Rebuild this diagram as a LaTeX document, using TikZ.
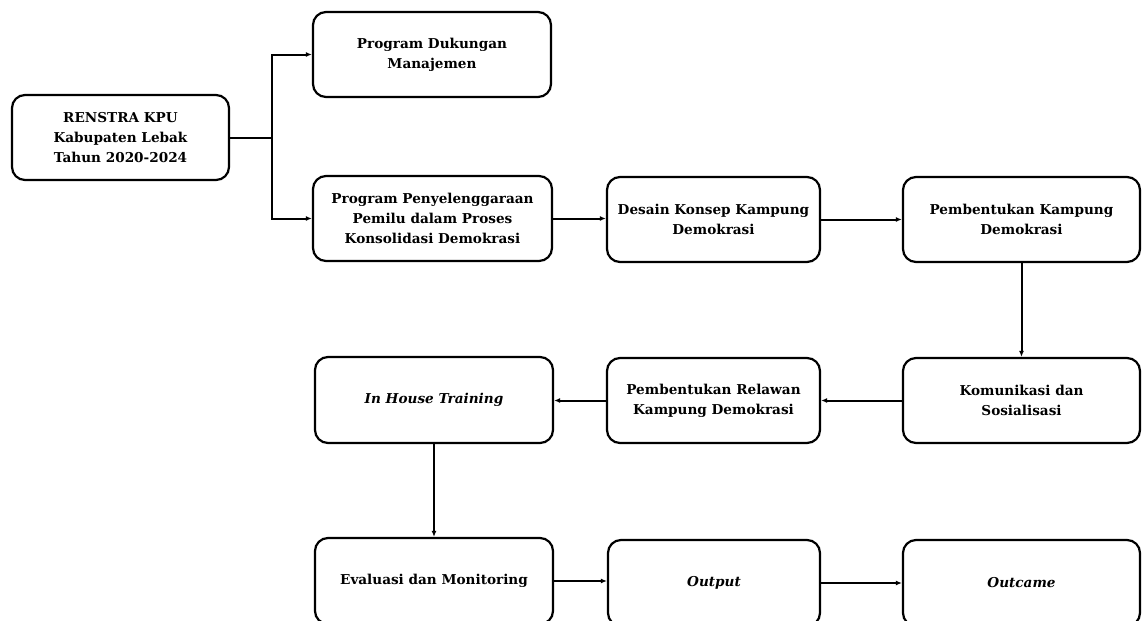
\documentclass[tikz,border=0pt]{standalone}
\usepackage{fontspec}
\setmainfont{DejaVu Serif}
\usetikzlibrary{arrows.meta}
\tikzset{
  box/.style={draw=black, line width=2.2pt, rounded corners=13pt, fill=white,
    inner sep=0pt, align=center, font=\fontsize{13.6}{20}\selectfont\bfseries},
  conn/.style={line width=2pt, -{Latex[length=6pt,width=5pt]}},
  plain/.style={line width=2pt}
}
\begin{document}
\begin{tikzpicture}[x=1pt,y=-1pt]
\useasboundingbox (0,0) rectangle (1144,621);
\clip (0,0) rectangle (1144,621);
\fill[white] (0,0) rectangle (1144,621);
\node[box, minimum width=217pt, minimum height=85pt] (R) at (120.5,137.5) {RENSTRA KPU\\Kabupaten Lebak\\Tahun 2020-2024};
\node[box, minimum width=238pt, minimum height=85pt] (PD) at (432,54.5) {Program Dukungan\\Manajemen};
\node[box, minimum width=239pt, minimum height=85pt] (PP) at (432.5,218.5) {Program Penyelenggaraan\\Pemilu dalam Proses\\Konsolidasi Demokrasi};
\node[box, minimum width=213pt, minimum height=85pt] (DK) at (713.5,219.5) {Desain Konsep Kampung\\Demokrasi};
\node[box, minimum width=237pt, minimum height=85pt] (PK) at (1021.5,219.5) {Pembentukan Kampung\\Demokrasi};
\node[box, minimum width=237pt, minimum height=85pt] (KS) at (1021.5,400.5) {Komunikasi dan\\Sosialisasi};
\node[box, minimum width=213pt, minimum height=85pt] (RK) at (713.5,400.5) {Pembentukan Relawan\\Kampung Demokrasi};
\node[box, minimum width=238pt, minimum height=86pt] (IH) at (434,400) {\itshape In House Training};
\node[box, minimum width=238pt, minimum height=86pt] (EM) at (434,581) {Evaluasi dan Monitoring};
\node[box, minimum width=212pt, minimum height=86pt] (OP) at (714,583) {\itshape Output};
\node[box, minimum width=237pt, minimum height=86pt] (OC) at (1021.5,583) {\itshape Outcame};
\draw[plain] (R.east) -- ++(42,0) coordinate (split);
\draw[conn] (split) |- (PD.west);
\draw[conn] (split) |- (PP.west);
\draw[conn] (PP.east) -- (PP.east -| DK.west);
\draw[conn] (DK.east) -- (PK.west);
\draw[conn] (PK.south) -- (KS.north);
\draw[conn] (KS.west) -- (RK.east);
\draw[conn] (RK.west) -- (RK.west -| IH.east);
\draw[conn] (IH.south) -- (EM.north);
\draw[conn] (EM.east) -- (EM.east -| OP.west);
\draw[conn] (OP.east) -- (OC.west);
\end{tikzpicture}
\end{document}
